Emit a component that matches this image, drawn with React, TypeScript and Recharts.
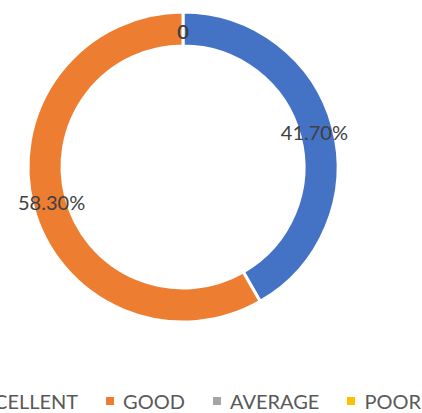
import React from 'react';
import { PieChart, Pie, Cell, Legend } from 'recharts';

const categories = ['EXCELLENT', 'GOOD', 'AVERAGE', 'POOR'];
const shares = [41.7, 58.3, 0, 0];
const sliceLabels = ['41.70%', '58.30%', '0', '0'];
const colors = ['#4472C4', '#ED7D31', '#A5A5A5', '#FFC000'];

const data = categories.map((name, i) => ({ name, value: shares[i], label: sliceLabels[i] }));

const RADIAN = Math.PI / 180;
const FONT = 'Lato, "Open Sans", sans-serif';

const renderLabel = (props: any) => {
    const { cx, cy, midAngle, innerRadius, outerRadius, index } = props;
    const r = (innerRadius + outerRadius) / 2 - 2;
    const x = cx + r * Math.cos(-midAngle * RADIAN);
    const y = cy + r * Math.sin(-midAngle * RADIAN);
    return (
        <text
            x={x}
            y={y}
            fill="#404040"
            fontSize={20}
            fontFamily={FONT}
            textAnchor="middle"
            dominantBaseline="central"
        >
            {sliceLabels[index]}
        </text>
    );
};

// legend kept in category order, one row, overflowing both edges like the original
const LegendRow = () => (
    <div
        style={{
            display: 'flex',
            justifyContent: 'center',
            alignItems: 'center',
            whiteSpace: 'nowrap',
            height: 24,
            fontFamily: FONT,
            fontSize: 20,
            color: '#595959',
        }}
    >
        {categories.map((name, i) => (
            <div key={name} style={{ display: 'flex', alignItems: 'center', marginLeft: i === 0 ? 0 : 28, flexShrink: 0 }}>
                <span style={{ width: 8, height: 8, background: colors[i], marginRight: 9, display: 'inline-block' }} />
                <span>{name}</span>
            </div>
        ))}
    </div>
);

export default function App() {
    return (
        <div style={{ position: 'absolute', left: 0, top: 0, width: 422, height: 413, background: '#fff', overflow: 'hidden' }}>
            <PieChart width={422} height={413}>
                <Pie
                    data={data}
                    dataKey="value"
                    nameKey="name"
                    cx={178}
                    cy={162}
                    innerRadius={121}
                    outerRadius={155}
                    startAngle={90}
                    endAngle={-270}
                    stroke="#ffffff"
                    strokeWidth={3}
                    label={renderLabel}
                    labelLine={false}
                    isAnimationActive={false}
                >
                    {data.map((d, i) => (
                        <Cell key={d.name} fill={colors[i]} />
                    ))}
                </Pie>
                <Legend
                    verticalAlign="bottom"
                    content={LegendRow}
                    wrapperStyle={{ left: -24, width: 422, bottom: 0 }}
                />
            </PieChart>
        </div>
    );
}
